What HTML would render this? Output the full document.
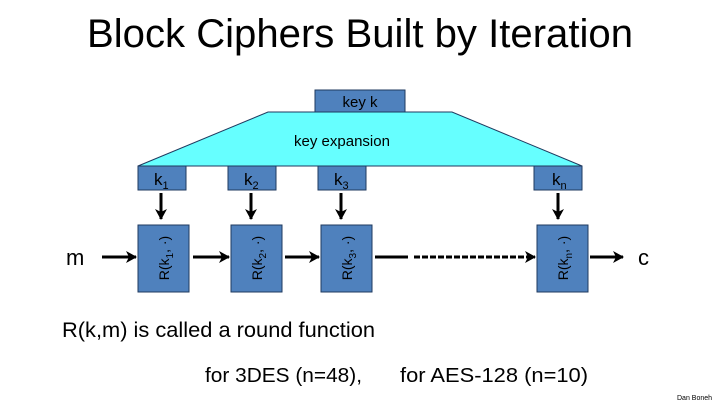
<!DOCTYPE html>
<html><head><style>
body{margin:0;background:#fff;}
svg{display:block;font-family:"Liberation Sans",sans-serif;}
</style></head><body>
<svg width="720" height="405" viewBox="0 0 720 405">
<defs>
<marker id="b" markerWidth="12" markerHeight="12" refX="10" refY="6" orient="auto" markerUnits="userSpaceOnUse"><path d="M0,0 L11,6 L0,12 L3,6z" fill="#000"/></marker></defs>
<text x="360" y="47" font-size="40" text-anchor="middle" fill="#000" textLength="546" lengthAdjust="spacingAndGlyphs">Block Ciphers Built by Iteration</text>
<rect x="315" y="90" width="90" height="22" fill="#4f81bd" stroke="#1f3a5f" stroke-width="1"/>
<text x="360" y="107" font-size="15" text-anchor="middle">key  k</text>
<polygon points="268,112 452,112 582,166 138,166" fill="#66ffff" stroke="#1f3a5f" stroke-width="1"/>
<text x="342" y="146" font-size="15" text-anchor="middle">key expansion</text>
<g fill="#4f81bd" stroke="#1f3a5f" stroke-width="1">
<rect x="138" y="166" width="48" height="24"/><rect x="228" y="166" width="48" height="24"/>
<rect x="318" y="166" width="48" height="24"/><rect x="534" y="166" width="48" height="24"/>
<rect x="138" y="225" width="51" height="67"/><rect x="231" y="225" width="51" height="67"/>
<rect x="321" y="225" width="51" height="67"/><rect x="537" y="225" width="51" height="67"/>
</g>
<g font-size="17"><text x="154" y="185">k<tspan font-size="11" dy="4">1</tspan></text>
<text x="244" y="185">k<tspan font-size="11" dy="4">2</tspan></text>
<text x="334" y="185">k<tspan font-size="11" dy="4">3</tspan></text>
<text x="552" y="185">k<tspan font-size="11" dy="4">n</tspan></text></g>
<g stroke="#000" stroke-width="3">
<line x1="161" y1="193" x2="161" y2="219" marker-end="url(#b)"/>
<line x1="251" y1="193" x2="251" y2="219" marker-end="url(#b)"/>
<line x1="341" y1="193" x2="341" y2="219" marker-end="url(#b)"/>
<line x1="558" y1="193" x2="558" y2="219" marker-end="url(#b)"/>
<line x1="102" y1="257" x2="136" y2="257" marker-end="url(#b)"/>
<line x1="193" y1="257" x2="229" y2="257" marker-end="url(#b)"/>
<line x1="285" y1="257" x2="319" y2="257" marker-end="url(#b)"/>
<line x1="375" y1="257" x2="408" y2="257"/>
<line x1="414" y1="257" x2="535" y2="257" stroke-dasharray="6,2" marker-end="url(#b)"/>
<line x1="590" y1="257" x2="623" y2="257" marker-end="url(#b)"/>
</g>
<text x="66" y="265" font-size="22">m</text>
<text x="638" y="265" font-size="22">c</text>
<g font-size="14">
<text transform="translate(169,258) rotate(-90)" text-anchor="middle">R(k<tspan font-size="10" dy="4">1</tspan><tspan dy="-4">, ·)</tspan></text>
<text transform="translate(262,258) rotate(-90)" text-anchor="middle">R(k<tspan font-size="10" dy="4">2</tspan><tspan dy="-4">, ·)</tspan></text>
<text transform="translate(352,258) rotate(-90)" text-anchor="middle">R(k<tspan font-size="10" dy="4">3</tspan><tspan dy="-4">, ·)</tspan></text>
<text transform="translate(568,258) rotate(-90)" text-anchor="middle">R(k<tspan font-size="10" dy="4">n</tspan><tspan dy="-4">, ·)</tspan></text>
</g>
<text x="62" y="337" font-size="21" textLength="313" lengthAdjust="spacingAndGlyphs">R(k,m) is called a round function</text>
<text x="205" y="382" font-size="20" textLength="157" lengthAdjust="spacingAndGlyphs">for  3DES (n=48),</text>
<text x="400" y="382" font-size="20" textLength="188" lengthAdjust="spacingAndGlyphs">for AES-128  (n=10)</text>
<text x="677" y="400" font-size="7">Dan Boneh</text>
</svg>
</body></html>
